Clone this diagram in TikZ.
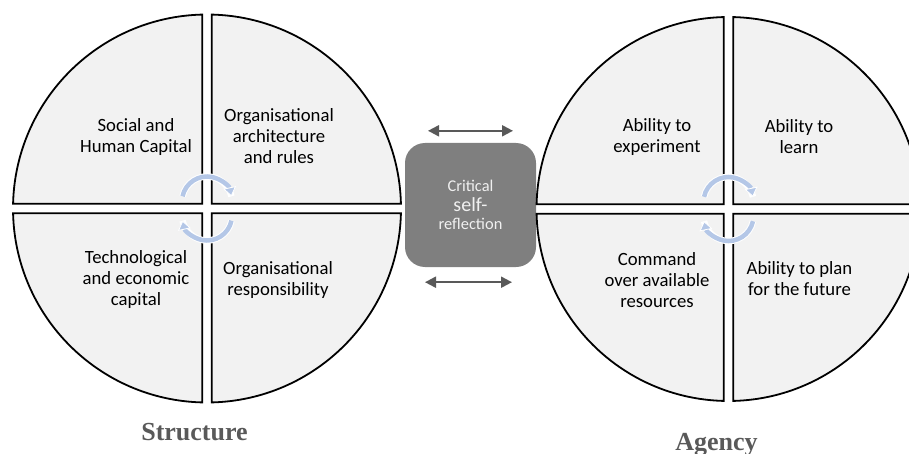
\documentclass[tikz,border=0pt]{standalone}
\usepackage{fontspec}
\setmainfont{Carlito}
\newfontfamily\headfont{Liberation Serif}
\usetikzlibrary{arrows.meta,positioning}
\definecolor{quadfill}{HTML}{F2F2F2}
\definecolor{boxgray}{HTML}{7F7F7F}
\definecolor{arrowgray}{HTML}{595959}
\definecolor{turnblue}{HTML}{B4C7E7}
\tikzset{
  quad/.style={draw=black, line width=1.8pt, fill=quadfill},
  quadtext/.style={align=center, font=\fontsize{18.7}{21}\selectfont},
  reflbox/.style={fill=boxgray, rounded corners=20pt, minimum width=131, minimum height=124,
    text=white!88!boxgray, align=center, font=\fontsize{16.4}{21}\selectfont},
  turnarrow/.style={turnblue, line width=4.5pt,
    -{Triangle[length=9pt,width=13pt,fill=turnblue,color=white,line width=0.8pt]},
    preaction={draw=white, line width=6.5pt, -}},
  twoway/.style={arrowgray, line width=2pt,
    {Triangle[length=11pt,width=11pt]}-{Triangle[length=11pt,width=11pt]}},
  heading/.style={text=arrowgray, anchor=base, font=\headfont\bfseries\fontsize{26}{30}\selectfont}
}
\begin{document}
\begin{tikzpicture}[x=1pt, y=1pt]
\useasboundingbox (0,0) rectangle (909,453);

\node[reflbox] (refl) at (470.5,248)
  {Critical\\[-1pt]{\fontsize{20}{24}\selectfont self-}\\[-3pt]reflection};
\coordinate[above=12 of refl.north, xshift=-42.5] (topl);
\coordinate[above=12 of refl.north, xshift=42.5] (topr);
\coordinate[below=15 of refl.south, xshift=-45.5] (botl);
\coordinate[below=15 of refl.south, xshift=41.5] (botr);
\draw[twoway] (topl) -- (topr);
\draw[twoway] (botl) -- (botr);

\foreach \cx/\cy/\r in {207/244.5/194, 728.5/244/192}{
  \foreach \a in {0,90,180,270}
    \draw[quad] ([shift={(\cx,\cy)}]\a+45:6.7) -- ([shift={(\cx,\cy)}]\a+1.4:\r)
      arc[start angle=\a+1.4, end angle=\a+88.6, radius=\r] -- cycle;
  \draw[turnarrow] ([shift={(\cx,\cy+7)}]168:25) arc[start angle=168, end angle=12, radius=25];
  \draw[turnarrow] ([shift={(\cx,\cy-7)}]-12:25) arc[start angle=-12, end angle=-168, radius=25];
}

\node[quadtext] (social) at (136,316) {Social and\\Human Capital};
\node[quadtext] (archi) at (279,317) {Organisational\\architecture\\and rules};
\node[quadtext] (techno) at (136,173) {Technological\\and economic\\capital};
\node[quadtext] (respons) at (278,173) {Organisational\\responsibility};
\node[quadtext] (experiment) at (657,316) {Ability to\\experiment};
\node[quadtext] (learn) at (799,316) {Ability to\\learn};
\node[quadtext] (command) at (657,173) {Command\\over available\\resources};
\node[quadtext] (plan) at (799.5,174) {Ability to plan\\for the future};

\node[heading] (structure) at (194.5,13) {Structure};
\node[heading] (agency) at (716.5,3) {Agency};
\end{tikzpicture}
\end{document}
